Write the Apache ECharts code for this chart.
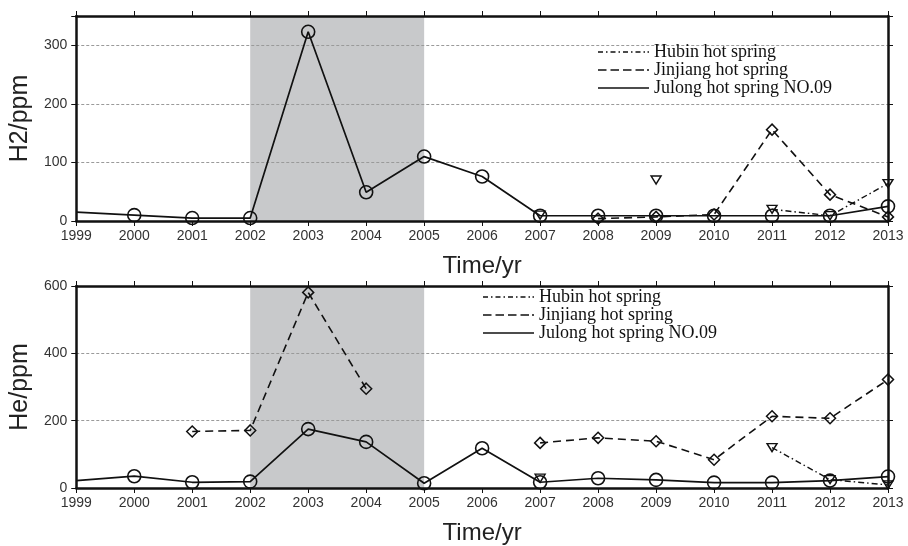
<!DOCTYPE html>
<html>
<head>
<meta charset="utf-8">
<script src="https://cdn.jsdelivr.net/npm/echarts@6/dist/echarts.min.js"></script>
<style>
  html, body { margin: 0; padding: 0; background: #fff; }
  #chart { width: 908px; height: 546px; }
</style>
</head>
<body>
<div id="chart"></div>
<script>
// values (ppm), one per year; null = no sample
const years = [1999, 2000, 2001, 2002, 2003, 2004, 2005, 2006, 2007, 2008, 2009, 2010, 2011, 2012, 2013];

const h2Julong   = [15, 10, 5, 5, 323, 49, 110, 76, 9, 9, 9, 9, 9, 9, 25];
const h2Jinjiang = [null, null, null, null, null, null, null, null, null, 4, 7, 11, 156, 45, 7];
const h2Hubin    = [null, null, null, null, null, null, null, null, 10, null, 70, null, 20, 9, 64];

const heJulong   = [22, 35, 17, 19, 175, 137, 14, 118, 17, 29, 24, 16, 16, 22, 34];
const heJinjiang = [null, null, 168, 171, 581, 295, null, null, 134, 149, 139, 84, 213, 207, 322];
const heHubin    = [null, null, null, null, null, null, null, null, 29, null, null, null, 120, 25, 9];

const shadeYears = [2002, 2005];
const h2Ticks = { max: 350, step: 100 };
const heTicks = { max: 600, step: 200 };

const names = ['Hubin hot spring', 'Jinjiang hot spring', 'Julong hot spring NO.09'];

const ink = '#111';
const sans = 'Liberation Sans';

function pairs(arr, skipFirst) {
  return arr.map(function (v, i) {
    const p = [years[i], v === null ? '-' : v];
    if (skipFirst && i === 0) return { value: p, symbol: 'none' };
    return p;
  });
}

// legend line icons, 51 x 1.4
const icons = [
  'path://M0,0h5v1.4h-5zM8,0h1.5v1.4h-1.5zM12.5,0h5v1.4h-5zM20.5,0h1.5v1.4h-1.5zM25,0h5v1.4h-5zM33,0h1.5v1.4h-1.5zM37.5,0h5v1.4h-5zM45.5,0h1.5v1.4h-1.5zM49.5,0h1.5v1.4h-1.5z',
  'path://M0,0h8.5v1.4h-8.5zM12.5,0h8.5v1.4h-8.5zM25,0h8.5v1.4h-8.5zM37.5,0h8.5v1.4h-8.5zM49,0h2v1.4h-2z',
  'path://M0,0h51v1.4h-51z'
];

function legend(left, top) {
  return {
    orient: 'vertical', left: left, top: top, padding: 0,
    itemWidth: 51, itemHeight: 1.4, itemGap: 0,
    selectedMode: false,
    itemStyle: { color: ink, borderColor: 'transparent', borderWidth: 0 },
    textStyle: { fontFamily: 'Liberation Serif', fontSize: 18, lineHeight: 17.5, color: ink },
    data: names.map(function (n, i) { return { name: n, icon: icons[i] }; })
  };
}

function xAxes(gridIndex) {
  const base = {
    type: 'value', gridIndex: gridIndex, min: 1999, max: 2013, interval: 1, z: 1.5,
    axisLine: { show: true, onZero: false, lineStyle: { color: ink, width: 2.5 } },
    axisTick: { show: true, inside: false, length: 5, lineStyle: { color: ink, width: 1 } },
    splitLine: { show: false }
  };
  return [
    Object.assign({}, base, {
      position: 'bottom',
      name: 'Time/yr', nameLocation: 'middle', nameGap: 33,
      nameTextStyle: { fontFamily: sans, fontSize: 24, color: '#222' },
      axisLabel: { fontFamily: sans, fontSize: 14, color: '#333', margin: 8, formatter: function (v) { return String(v); } }
    }),
    Object.assign({}, base, { position: 'top', axisLabel: { show: false } })
  ];
}

function yAxes(gridIndex, t, title) {
  const base = {
    type: 'value', gridIndex: gridIndex, min: 0, max: t.max, interval: t.step, z: 1.5,
    axisLine: { show: true, onZero: false, lineStyle: { color: ink, width: 2.5 } },
    axisTick: { show: true, inside: false, length: 5, lineStyle: { color: ink, width: 1 } }
  };
  return [
    Object.assign({}, base, {
      position: 'left',
      name: title, nameLocation: 'middle', nameGap: 42,
      nameTextStyle: { fontFamily: sans, fontSize: 25, color: '#222' },
      axisLabel: {
        fontFamily: sans, fontSize: 14, color: '#333', margin: 9,
        formatter: function (v) { return (v % t.step === 0) ? String(v) : ''; }
      },
      splitLine: { show: true, lineStyle: { color: '#9a9a9a', width: 1, type: [3, 2] } }
    }),
    Object.assign({}, base, { position: 'right', axisLabel: { show: false }, splitLine: { show: false } })
  ];
}

function seriesFor(gridIndex, hubin, jinjiang, julong) {
  const xi = gridIndex * 2, yi = gridIndex * 2;
  return [
    {
      name: names[0], type: 'line', xAxisIndex: xi, yAxisIndex: yi,
      data: pairs(hubin), connectNulls: false,
      symbol: 'triangle', symbolSize: [10, 8], symbolRotate: 180,
      lineStyle: { color: ink, width: 1.4, type: [6, 3, 1.5, 3] },
      itemStyle: { color: 'none', borderColor: ink, borderWidth: 1.4 },
      emphasis: { disabled: true }
    },
    {
      name: names[1], type: 'line', xAxisIndex: xi, yAxisIndex: yi,
      data: pairs(jinjiang), connectNulls: false,
      symbol: 'diamond', symbolSize: 11,
      lineStyle: { color: ink, width: 1.6, type: [8, 5] },
      itemStyle: { color: 'none', borderColor: ink, borderWidth: 1.5 },
      emphasis: { disabled: true }
    },
    {
      name: names[2], type: 'line', xAxisIndex: xi, yAxisIndex: yi,
      data: pairs(julong, true),
      symbol: 'circle', symbolSize: 13,
      lineStyle: { color: ink, width: 1.7 },
      itemStyle: { color: 'none', borderColor: ink, borderWidth: 1.6 },
      emphasis: { disabled: true },
      markArea: {
        silent: true,
        itemStyle: { color: '#c8c9cb' },
        data: [[{ xAxis: shadeYears[0] }, { xAxis: shadeYears[1] }]]
      }
    }
  ];
}

const chart = echarts.init(document.getElementById('chart'), null, { renderer: 'canvas' });
chart.setOption({
  animation: false,
  backgroundColor: '#fff',
  color: [ink, ink, ink],
  grid: [
    { left: 76, right: 20, top: 16, height: 205 },
    { left: 76, right: 20, top: 286, height: 202 }
  ],
  legend: [legend(598, 43), legend(483, 288)],
  xAxis: xAxes(0).concat(xAxes(1)),
  yAxis: yAxes(0, h2Ticks, 'H2/ppm').concat(yAxes(1, heTicks, 'He/ppm')),
  series: seriesFor(0, h2Hubin, h2Jinjiang, h2Julong).concat(seriesFor(1, heHubin, heJinjiang, heJulong))
});
</script>
</body>
</html>
